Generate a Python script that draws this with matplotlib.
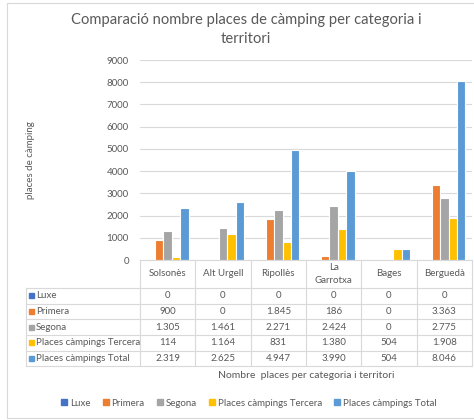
import matplotlib
matplotlib.use("Agg")
import matplotlib.pyplot as plt
from matplotlib.patches import Rectangle
from matplotlib.lines import Line2D
import matplotlib.transforms as mtrans
import numpy as np

categories = ["Solsonès", "Alt Urgell", "Ripollès", "La\nGarrotxa", "Bages", "Berguedà"]
series_names = ["Luxe", "Primera", "Segona", "Places càmpings Tercera", "Places càmpings Total"]
luxe = [0, 0, 0, 0, 0, 0]
primera = [900, 0, 1845, 186, 0, 3363]
segona = [1305, 1461, 2271, 2424, 0, 2775]
tercera = [114, 1164, 831, 1380, 504, 1908]
total = [2319, 2625, 4947, 3990, 504, 8046]
yticks = [0, 1000, 2000, 3000, 4000, 5000, 6000, 7000, 8000, 9000]
colors = ["#4472C4", "#ED7D31", "#A5A5A5", "#FFC000", "#5B9BD5"]

plt.rcParams['font.family'] = ['Lato', 'DejaVu Sans']
TXT = "#595959"
GRID = "#D9D9D9"

W, H = 474, 420
fig = plt.figure(figsize=(W / 100, H / 100), dpi=100)

def fx(px):
    return px / W

def fy(py):
    return 1 - py / H

# outer frame
fig.patches.append(Rectangle((fx(7), fy(418)), fx(474) - fx(7) + 0.01, fy(3) - fy(418),
                             transform=fig.transFigure, fill=False, edgecolor=GRID, lw=0.8))

ax = fig.add_axes([fx(140), fy(260), fx(472) - fx(140), fy(60) - fy(260)])
data = [luxe, primera, segona, tercera, total]
x = np.arange(len(categories))
slot = 0.151
for i, (vals, c) in enumerate(zip(data, colors)):
    ax.bar(x + (i - 2) * slot, vals, width=slot, color=c, edgecolor="white", linewidth=0.8, zorder=3)

ax.set_xlim(-0.5, len(categories) - 0.5)
ax.set_ylim(0, 9000)
ax.set_yticks(yticks)
ax.set_yticklabels([str(v) for v in yticks], fontsize=7, color=TXT)
ax.tick_params(axis='y', length=0, pad=8)
ax.set_xticks([])
for s in ["top", "right", "left", "bottom"]:
    ax.spines[s].set_visible(False)
ax.grid(axis='y', color=GRID, linewidth=0.8, zorder=0)
ax.set_ylabel("places de càmping", fontsize=7, color=TXT, labelpad=0)
ax.yaxis.set_label_coords(-(140 - 35) / (472 - 140), 0.5)

fig.text(fx(246), fy(29.5), "Comparació nombre places de càmping per categoria i\nterritori",
         ha="center", va="center", fontsize=10.6, color=TXT, linespacing=1.4)

# data table
bt = mtrans.blended_transform_factory(ax.transData, fig.transFigure)
row_edges = [260, 288, 303.5, 319, 335, 350.5, 366]
x0, x1 = -0.5, len(categories) - 0.5
lc = GRID
fig.add_artist(Line2D([x0, x1], [fy(260), fy(260)], transform=bt, color=lc, lw=0.8))
for r in row_edges[1:]:
    fig.add_artist(Line2D([fx(26), fx(472)], [fy(r), fy(r)], transform=fig.transFigure, color=lc, lw=0.8))
for i in range(len(categories) + 1):
    fig.add_artist(Line2D([x0 + i, x0 + i], [fy(260), fy(366)], transform=bt, color=lc, lw=0.8))
fig.add_artist(Line2D([fx(26), fx(26)], [fy(288), fy(366)], transform=fig.transFigure, color=lc, lw=0.8))

for i, cat in enumerate(categories):
    fig.text(x[i], fy(274), cat, transform=bt, ha="center", va="center",
             fontsize=7, color=TXT, linespacing=1.6)

def fmt(v):
    return f"{v:,}".replace(",", ".")

for r, (name, vals, c) in enumerate(zip(series_names, data, colors)):
    yc = (row_edges[r + 1] + row_edges[r + 2]) / 2
    fig.patches.append(Rectangle((fx(29), fy(yc + 2.5)), fx(5), fy(yc - 2.5) - fy(yc + 2.5),
                                 transform=fig.transFigure, color=c))
    fig.text(fx(36), fy(yc), name, ha="left", va="center", fontsize=7, color=TXT)
    for i, v in enumerate(vals):
        fig.text(x[i], fy(yc), fmt(v), transform=bt, ha="center", va="center", fontsize=7, color=TXT)

fig.text(fx(306), fy(376), "Nombre  places per categoria i territori", ha="center", va="center",
         fontsize=7.5, color=TXT)

handles = [Rectangle((0, 0), 1, 1, color=c) for c in colors]
fig.legend(handles, series_names, loc="center", bbox_to_anchor=(fx(249), fy(403)), ncol=5,
           frameon=False, fontsize=7, handlelength=0.6, handleheight=0.6, handletextpad=0.3,
           columnspacing=1.25, labelcolor=TXT)

fig.savefig("out.png", dpi=100)
